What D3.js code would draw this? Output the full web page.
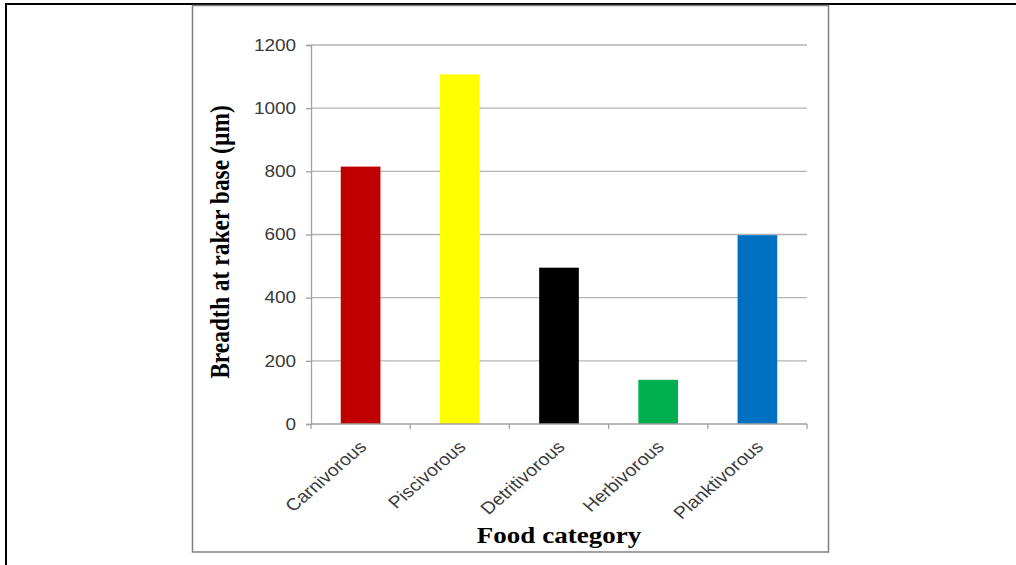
<!DOCTYPE html>
<html>
<head>
<meta charset="utf-8">
<script src="https://cdn.jsdelivr.net/npm/d3@7"></script>
<style>
  body { margin: 0; background: #fff; }
  svg { display: block; }
</style>
</head>
<body>
<div id="chart"></div>
<script>
"use strict"

// data
var categories = ["Carnivorous", "Piscivorous", "Detritivorous", "Herbivorous", "Planktivorous"]
var values = [815, 1107, 495, 140, 598]
var colors = ["#C00000", "#FFFF00", "#000000", "#00B050", "#0070C0"]
var yTicks = [0, 200, 400, 600, 800, 1000, 1200]
var yTitle = "Breadth at raker base (\u00b5m)"
var xTitle = "Food category"

var W = 1016, H = 565
var plot = { left: 311, right: 807, top: 45, bottom: 424 }
var sx = 1.15   // the source picture is stretched sideways a bit

var svg = d3.select("#chart").append("svg")
    .attr("width", W)
    .attr("height", H)

// page frame: only top and left edge are visible
svg.append("path")
    .attr("d", "M6,565 V4 H1016")
    .attr("fill", "none")
    .attr("stroke", "#000")
    .attr("stroke-width", 2)

// chart frame
svg.append("rect")
    .attr("x", 192.5).attr("y", 5.5)
    .attr("width", 636).attr("height", 546.5)
    .attr("fill", "#fff")
    .attr("stroke", "#808080")
    .attr("stroke-width", 1.5)

var x = d3.scaleBand()
    .domain(categories)
    .range([plot.left, plot.right])
    .paddingInner(0.6)
    .paddingOuter(0.3)

var y = d3.scaleLinear()
    .domain([0, 1200])
    .range([plot.bottom, plot.top])

// gridlines
svg.append("g")
    .selectAll("line")
    .data(yTicks.slice(1))
    .enter()
    .append("line")
    .attr("x1", plot.left).attr("x2", plot.right)
    .attr("y1", function(d) { return y(d) }).attr("y2", function(d) { return y(d) })
    .attr("stroke", "#b4b4b4")
    .attr("stroke-width", 1.3)

// y axis
var yaxis = d3.axisLeft(y).tickValues(yTicks).tickFormat(d3.format("d")).tickSize(5).tickPadding(10)
var gy = svg.append("g")
    .attr("transform", "translate(" + plot.left + ",0)")
    .call(yaxis)
gy.select(".domain").attr("stroke", "#a0a0a0").attr("stroke-width", 1.3)
gy.selectAll(".tick line").attr("stroke", "#a0a0a0").attr("stroke-width", 1.3)
gy.selectAll(".tick text")
    .attr("fill", "#3a3a3a")
    .attr("font-family", "Arial, 'Liberation Sans', sans-serif")
    .attr("font-size", 16.5)
    .attr("transform", function() {
        var tx = +d3.select(this).attr("x") - 1
        return "translate(" + tx + ",0) scale(" + sx + ",1) translate(" + (-tx) + ",0)"
    })

// bars
svg.append("g")
    .selectAll("rect")
    .data(values)
    .enter()
    .append("rect")
    .attr("x", function(d, i) { return x(categories[i]) })
    .attr("width", x.bandwidth())
    .attr("y", function(d) { return y(d) })
    .attr("height", function(d) { return y(0) - y(d) })
    .attr("fill", function(d, i) { return colors[i] })

// x axis line with ticks at category boundaries
var bounds = categories.map(function(c) { return x(c) - x.step() * x.paddingInner() / 2 })
bounds.push(plot.right)
svg.append("line")
    .attr("x1", plot.left).attr("x2", plot.right)
    .attr("y1", plot.bottom).attr("y2", plot.bottom)
    .attr("stroke", "#a0a0a0").attr("stroke-width", 1.3)
svg.append("g")
    .selectAll("line")
    .data(bounds)
    .enter()
    .append("line")
    .attr("x1", function(d) { return d }).attr("x2", function(d) { return d })
    .attr("y1", plot.bottom).attr("y2", plot.bottom + 5)
    .attr("stroke", "#a0a0a0").attr("stroke-width", 1.3)

// rotated category labels
svg.append("g")
    .selectAll("text")
    .data(categories)
    .enter()
    .append("text")
    .attr("transform", function(d) {
        var cx = x(d) + x.bandwidth() / 2 + 7
        return "translate(" + cx + "," + (plot.bottom + 24) + ") scale(" + sx + ",1) rotate(-45)"
    })
    .attr("text-anchor", "end")
    .attr("fill", "#3a3a3a")
    .attr("font-family", "Arial, 'Liberation Sans', sans-serif")
    .attr("font-size", 17)
    .text(function(d) { return d })

// axis titles
svg.append("text")
    .attr("transform", "translate(229,242) scale(" + sx + ",1) rotate(-90)")
    .attr("text-anchor", "middle")
    .attr("font-family", "'Times New Roman', 'Liberation Serif', serif")
    .attr("font-weight", "bold")
    .attr("font-size", 23.5)
    .attr("fill", "#000")
    .text(yTitle)

svg.append("text")
    .attr("transform", "translate(" + ((plot.left + plot.right) / 2) + ",543) scale(" + sx + ",1)")
    .attr("text-anchor", "middle")
    .attr("font-family", "'Times New Roman', 'Liberation Serif', serif")
    .attr("font-weight", "bold")
    .attr("font-size", 23.5)
    .attr("fill", "#000")
    .text(xTitle)
</script>
</body>
</html>
